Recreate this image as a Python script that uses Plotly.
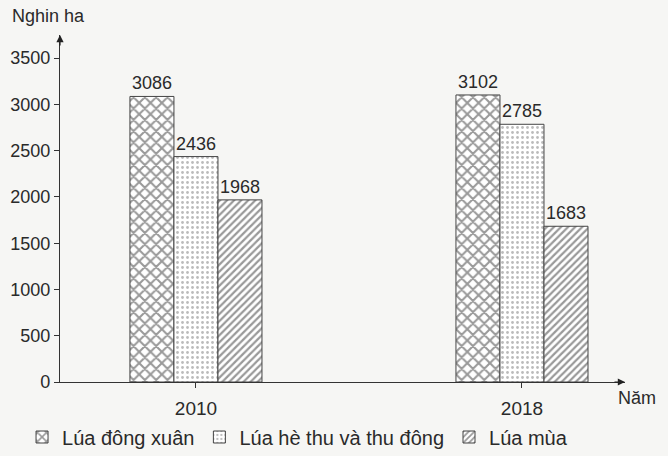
import plotly.graph_objects as go

years = ["2010", "2018"]
dong_xuan = [3086, 3102]
he_thu = [2436, 2785]
lua_mua = [1968, 1683]
names = ["Lúa đông xuân", "Lúa hè thu và thu đông", "Lúa mùa"]
y_ticks = [0, 500, 1000, 1500, 2000, 2500, 3000, 3500]

FONT = "Liberation Sans, Arial, sans-serif"
INK = "#2a2a2a"
BG = "#f6f6f4"

patterns = [
    dict(shape="x", size=8, solidity=0.45, fgcolor="#333333", bgcolor="#ffffff"),
    dict(shape=".", size=5, solidity=0.25, fgcolor="#777777", bgcolor="#ffffff"),
    dict(shape="/", size=5, solidity=0.45, fgcolor="#333333", bgcolor="#ffffff"),
]

fig = go.Figure()
for vals, name, pat in zip([dong_xuan, he_thu, lua_mua], names, patterns):
    fig.add_trace(go.Bar(
        x=years, y=vals, name=name,
        marker=dict(color="#ffffff", pattern=pat, line=dict(color="#444444", width=1)),
        text=[str(v) for v in vals], textposition="outside",
        textfont=dict(size=18, color=INK, family=FONT),
        cliponaxis=False,
    ))

PW, PH, L, T = 565, 347, 60, 35

fig.update_layout(
    width=668, height=456,
    margin=dict(l=L, r=43, t=T, b=74, autoexpand=False),
    paper_bgcolor=BG, plot_bgcolor=BG,
    font=dict(family=FONT, color=INK, size=18),
    barmode="group", bargap=0.595, bargroupgap=0,
    showlegend=True,
    legend=dict(orientation="h", xref="container", yref="container",
                x=0.033, xanchor="left", y=1 - 437 / 456, yanchor="middle",
                font=dict(size=20, color=INK), bgcolor="rgba(0,0,0,0)",
                traceorder="normal"),
    xaxis=dict(range=[-0.417, 1.316], showline=True, linecolor="#333333", linewidth=1.2,
               ticks="outside", ticklen=5, tickcolor="#333333", showgrid=False,
               tickfont=dict(size=19, color=INK), zeroline=False,
               ticklabelstandoff=4, automargin=False),
    yaxis=dict(range=[0, 3750], tickvals=y_ticks, showline=True, linecolor="#333333",
               linewidth=1.2, ticks="outside", ticklen=5, tickcolor="#333333",
               showgrid=False, zeroline=False, tickfont=dict(size=18, color=INK),
               automargin=False),
    annotations=[
        dict(xref="paper", yref="paper", x=0, y=1, ax=0, ay=12,
             showarrow=True, arrowhead=2, arrowsize=1.2, arrowwidth=1.2, arrowcolor="#222222", text=""),
        dict(xref="paper", yref="paper", x=1, y=0, ax=-12, ay=0,
             showarrow=True, arrowhead=2, arrowsize=1.2, arrowwidth=1.2, arrowcolor="#222222", text=""),
        dict(xref="paper", yref="paper", x=(10 - L) / PW, y=1 + (T - 16) / PH,
             xanchor="left", yanchor="middle",
             showarrow=False, text="Nghin ha", font=dict(size=18, color=INK)),
        dict(xref="paper", yref="paper", x=(616 - L) / PW, y=-(398 - (T + PH)) / PH,
             xanchor="left", yanchor="middle",
             showarrow=False, text="Năm", font=dict(size=18, color=INK)),
    ],
)

fig.write_html("out.html", config={"displayModeBar": False},
               post_script="document.body.style.margin='0px';document.body.style.background='#f6f6f4';")
